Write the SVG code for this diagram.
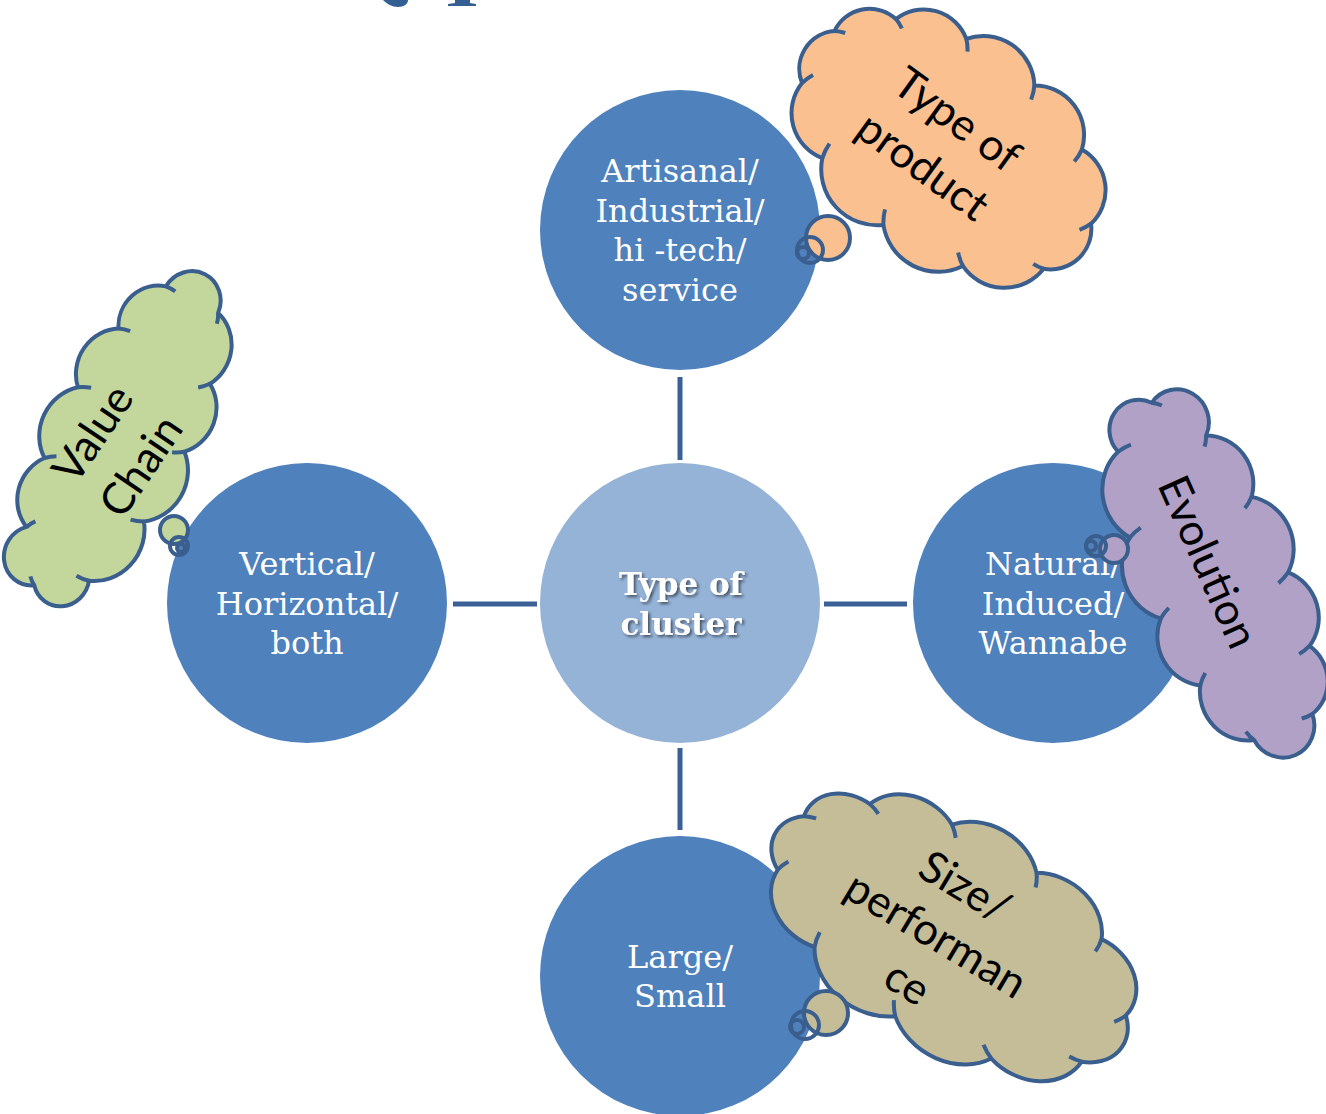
<svg xmlns="http://www.w3.org/2000/svg" xmlns:xlink="http://www.w3.org/1999/xlink" width="1326" height="1114" viewBox="0 0 1326 1114">
<style>
  .main { fill: #4F81BD; }
  .hub { fill: #95B3D7; }
  .lbl { font-family: "DejaVu Serif", "Liberation Serif", serif; font-size: 32px; fill: #FFFFFF; text-anchor: middle; }
  .hublbl { font-family: "DejaVu Serif", "Liberation Serif", serif; font-size: 31px; font-weight: bold; fill: #FFFFFF; text-anchor: middle; filter: url(#shadow); }
  .conn line { stroke: #3B6095; stroke-width: 5; }
  .cl { stroke: #3A5F8E; stroke-width: 4; vector-effect: non-scaling-stroke; stroke-linejoin: round; }
  .crease { fill: none; stroke: #3A5F8E; stroke-width: 4; vector-effect: non-scaling-stroke; }
  .tail { stroke: #3A5F8E; stroke-width: 4; }
  .ct { font-family: Lato, "Liberation Sans", sans-serif; font-size: 44px; fill: #000000; text-anchor: middle; }
  .title { fill: #335F95; }
</style>
<defs>
  <filter id="shadow" x="-20%" y="-20%" width="140%" height="140%">
    <feDropShadow dx="2" dy="2" stdDeviation="1.5" flood-color="#000000" flood-opacity="0.55"/>
  </filter>
  <path id="cloudWide" class="cl" d="M -155.1 34.9 A 38.1 38.1 0 0 1 -159.4 -26.4 A 38.8 38.8 0 0 1 -116.7 -72.1 A 45.3 45.3 0 0 1 -48.2 -97.5 A 51.2 51.2 0 0 1 34.3 -99.8 A 49.5 49.5 0 0 1 110.4 -75.8 A 46.3 46.3 0 0 1 161.4 -21.2 A 40.5 40.5 0 0 1 149.5 43.1 A 50.1 50.1 0 0 1 82.5 88.3 A 55.4 55.4 0 0 1 -5.8 101.9 A 56.2 56.2 0 0 1 -94.6 83.6 A 48.2 48.2 0 0 1 -155.1 34.9 Z"/>
  <path id="creaseWide" class="crease" d="M -159.4 -26.4 a 38.1 38.1 0 0 1 9.8 -4.6 M -116.7 -72.1 a 38.8 38.8 0 0 1 10.3 4.1 M -48.2 -97.5 a 45.3 45.3 0 0 1 8.5 9.7 M 34.3 -99.8 a 51.2 51.2 0 0 1 5.7 13.4 M 110.4 -75.8 a 49.5 49.5 0 0 1 0.9 14.1 M 161.4 -21.2 a 46.3 46.3 0 0 1 -5.7 11.8 M 149.5 43.1 a 40.5 40.5 0 0 1 -11.3 2.1 M 82.5 88.3 a 50.1 50.1 0 0 1 -11.7 -8.1 M -5.8 101.9 a 55.4 55.4 0 0 1 -7.9 -13.6 M -94.6 83.6 a 56.2 56.2 0 0 1 -2.6 -15.8 M -155.1 34.9 a 48.2 48.2 0 0 1 4.2 -13"/>
  <path id="cloudLong" class="cl" d="M 158.9 -31.9 A 32 32 0 0 1 158.9 31.9 A 45.9 45.9 0 0 1 90 58.9 A 46.4 46.4 0 0 1 15.7 67.7 A 51.6 51.6 0 0 1 -67.4 63 A 51.8 51.8 0 0 1 -147.5 39 A 30 30 0 0 1 -177.3 -11.8 A 31 31 0 0 1 -127.3 -48.1 A 45.6 45.6 0 0 1 -55.6 -64.7 A 50 50 0 0 1 25.1 -67.3 A 45.6 45.6 0 0 1 98 -57 A 40.9 40.9 0 0 1 158.9 -31.9 Z"/>
  <path id="creaseLong" class="crease" d="M 158.9 31.9 a 32 32 0 0 1 -10.5 4.1 M 90 58.9 a 45.9 45.9 0 0 1 -8.9 -9.6 M 15.7 67.7 a 46.4 46.4 0 0 1 -6.2 -11.7 M -67.4 63 a 51.6 51.6 0 0 1 -4.5 -13.9 M -147.5 39 a 51.8 51.8 0 0 1 -1.2 -14.7 M -177.3 -11.8 a 30 30 0 0 1 6.4 -8.1 M -127.3 -48.1 a 31 31 0 0 1 9.2 5.9 M -55.6 -64.7 a 45.6 45.6 0 0 1 7.3 10.7 M 25.1 -67.3 a 50 50 0 0 1 5.6 13.1 M 98 -57 a 45.6 45.6 0 0 1 3 12.7 M 158.9 -31.9 a 40.9 40.9 0 0 1 -0.2 11.6"/>
</defs>

<rect width="1326" height="1114" fill="#FFFFFF"/>

<!-- title fragments cut off at top edge -->
<path class="title" d="M383 0 L408 0 C408 4 404 7 398 7 C392 7 387 4 383 0 Z"/>
<path class="title" d="M455 0 L470 0 L470 3 L476 4 L476 6 L448 6 L448 4 L455 3 Z"/>

<g id="connectors" class="conn">
  <line x1="680" y1="377" x2="680" y2="460"/>
  <line x1="680" y1="748" x2="680" y2="830"/>
  <line x1="453" y1="604" x2="537" y2="604"/>
  <line x1="824" y1="604" x2="907" y2="604"/>
</g>

<g id="node-center">
  <circle class="hub" cx="680" cy="603" r="140"/>
  <text class="hublbl"><tspan x="681" y="595">Type of</tspan><tspan x="681" y="635">cluster</tspan></text>
</g>

<g id="node-product">
  <circle class="main" cx="680" cy="230" r="140"/>
  <text class="lbl"><tspan x="680" y="182">Artisanal/</tspan><tspan x="680" y="222">Industrial/</tspan><tspan x="680" y="261">hi -tech/</tspan><tspan x="680" y="301">service</tspan></text>
</g>

<g id="node-valuechain">
  <circle class="main" cx="307" cy="603" r="140"/>
  <text class="lbl"><tspan x="307" y="575">Vertical/</tspan><tspan x="307" y="615">Horizontal/</tspan><tspan x="307" y="654">both</tspan></text>
</g>

<g id="node-evolution">
  <circle class="main" cx="1053" cy="603" r="140"/>
  <text class="lbl"><tspan x="1053" y="575">Natural/</tspan><tspan x="1053" y="615">Induced/</tspan><tspan x="1053" y="654">Wannabe</tspan></text>
</g>

<g id="node-size">
  <circle class="main" cx="680" cy="976" r="140"/>
  <text class="lbl"><tspan x="680" y="968">Large/</tspan><tspan x="680" y="1007">Small</tspan></text>
</g>

<g id="cloud-product">
  <g transform="translate(948,146) rotate(36)">
    <use xlink:href="#cloudWide" href="#cloudWide" fill="#FAC090"/>
    <use xlink:href="#creaseWide" href="#creaseWide"/>
  </g>
  <circle class="tail" cx="828" cy="238" r="22" fill="#FAC090"/>
  <circle class="tail" cx="810" cy="250" r="13" fill="none"/>
  <circle class="tail" cx="803" cy="253" r="6" fill="none"/>
  <text class="ct" transform="translate(940,143) rotate(36)"><tspan x="0" y="-14">Type of</tspan><tspan x="0" y="44">product</tspan></text>
</g>

<g id="cloud-valuechain">
  <g transform="translate(122,437) rotate(-63) scale(0.97,0.92)">
    <use xlink:href="#cloudLong" href="#cloudLong" fill="#C3D69B"/>
    <use xlink:href="#creaseLong" href="#creaseLong"/>
  </g>
  <circle class="tail" cx="174" cy="530" r="14" fill="#C3D69B"/>
  <circle class="tail" cx="179" cy="546" r="9" fill="none"/>
  <circle class="tail" cx="181" cy="548" r="4" fill="none"/>
  <text class="ct" transform="translate(117,450) rotate(-56)"><tspan x="0" y="-14">Value</tspan><tspan x="0" y="44">Chain</tspan></text>
</g>

<g id="cloud-evolution">
  <g transform="translate(1216,576) rotate(66) scale(1.04,1)">
    <use xlink:href="#cloudLong" href="#cloudLong" fill="#B2A1C7"/>
    <use xlink:href="#creaseLong" href="#creaseLong"/>
  </g>
  <circle class="tail" cx="1114" cy="549" r="14" fill="#B2A1C7"/>
  <circle class="tail" cx="1096" cy="546" r="10" fill="none"/>
  <circle class="tail" cx="1091" cy="546" r="5" fill="none"/>
  <text class="ct" transform="translate(1208,562) rotate(66)"><tspan x="0" y="15">Evolution</tspan></text>
</g>

<g id="cloud-size">
  <g transform="translate(952,935) rotate(31) scale(1.18,0.97)">
    <use xlink:href="#cloudWide" href="#cloudWide" fill="#C4BD97"/>
    <use xlink:href="#creaseWide" href="#creaseWide"/>
  </g>
  <circle class="tail" cx="826" cy="1013" r="22" fill="#C4BD97"/>
  <circle class="tail" cx="805" cy="1025" r="14" fill="none"/>
  <circle class="tail" cx="797" cy="1027" r="7" fill="none"/>
  <text class="ct" transform="translate(936,935) rotate(31)"><tspan x="0" y="-41">Size/</tspan><tspan x="0" y="15">performan</tspan><tspan x="0" y="71">ce</tspan></text>
</g>
</svg>
